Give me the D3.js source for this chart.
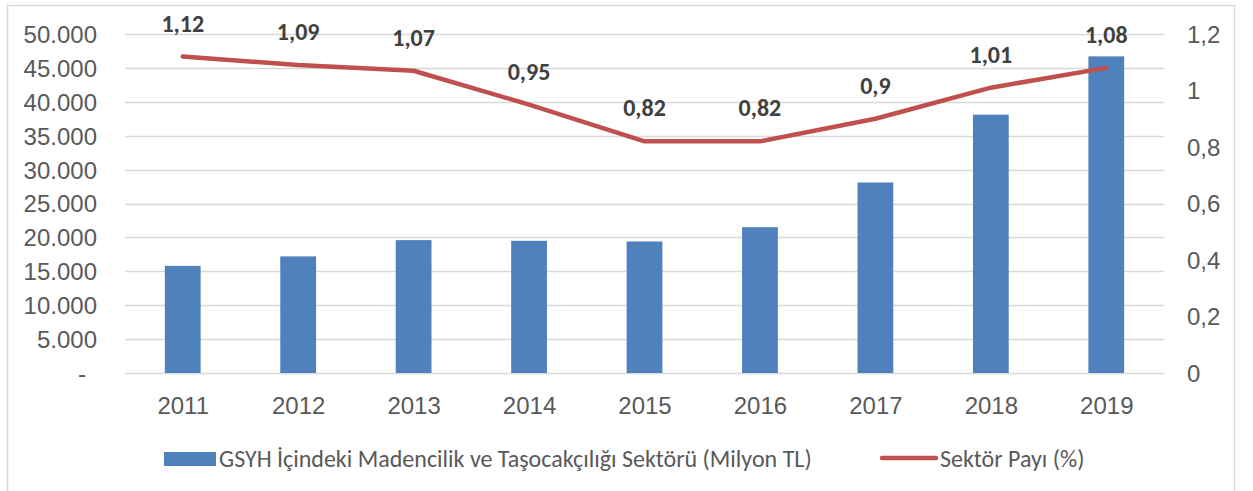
<!DOCTYPE html>
<html>
<head>
<meta charset="utf-8">
<script src="https://cdn.jsdelivr.net/npm/d3@7"></script>
<style>
  body { margin: 0; background: #fff; }
  svg { display: block; font-family: Calibri, Carlito, "Open Sans", sans-serif; }
  .axis text { fill: #595959; font-size: 24px; }
  .axis .domain { display: none; }
</style>
</head>
<body>
<svg id="chart" width="1253" height="491"></svg>
<script>
// data
const years = ["2011", "2012", "2013", "2014", "2015", "2016", "2017", "2018", "2019"];
const sectorValue = [15800, 17200, 19600, 19500, 19400, 21500, 28100, 38100, 46700];
const sectorShare = [1.12, 1.09, 1.07, 0.95, 0.82, 0.82, 0.9, 1.01, 1.08];
const leftTicks = [0, 5000, 10000, 15000, 20000, 25000, 30000, 35000, 40000, 45000, 50000];
const rightTicks = [0, 0.2, 0.4, 0.6, 0.8, 1, 1.2];
const barLabel = "GSYH İçindeki Madencilik ve Taşocakçılığı Sektörü (Milyon TL)";
const lineLabel = "Sektör Payı (%)";

let chart = d3.select("#chart");
let tr = d3.formatLocale({decimal: ",", thousands: ".", grouping: [3], currency: ["", " TL"]});
let fmtLeft = tr.format(",.0f");
let fmtRight = tr.format("~g");

// chart frame
chart.append("rect")
    .attr("x", 7.5).attr("y", 5.5)
    .attr("width", 1227).attr("height", 520)
    .attr("fill", "none")
    .attr("stroke", "#d9d9d9")
    .attr("stroke-width", 1.5);

// scales
let x = d3.scaleBand()
    .domain(years)
    .range([125, 1164])
    .paddingInner(0.69)
    .paddingOuter(0.345);
let xc = d3.scalePoint().domain(years).range([125, 1164]).padding(0.5);

let yL = d3.scaleLinear().domain([0, 50000]).range([373, 34]);
let yR = d3.scaleLinear().domain([0, 1.2]).range([373, 34]);

// gridlines
chart.append("g")
    .selectAll("line")
    .data(leftTicks)
    .join("line")
    .attr("x1", 125).attr("x2", 1164)
    .attr("y1", d => Math.round(yL(d)) + 0.5)
    .attr("y2", d => Math.round(yL(d)) + 0.5)
    .attr("stroke", "#d9d9d9")
    .attr("stroke-width", 1.5);

// left axis
let yAxisGroup = chart.append("g")
    .attr("class", "axis")
    .attr("transform", "translate(125,0)")
    .call(d3.axisLeft(yL).tickValues(leftTicks).tickSize(0).tickPadding(28)
        .tickFormat(d => d === 0 ? "-" : fmtLeft(d)));
yAxisGroup.selectAll("text").attr("dy", "0.35em");
yAxisGroup.selectAll(".tick").filter(d => d === 0).select("text")
    .attr("text-anchor", "middle").attr("x", -43);

// right axis
let yAxisRight = chart.append("g")
    .attr("class", "axis")
    .attr("transform", "translate(1164,0)")
    .call(d3.axisRight(yR).tickValues(rightTicks).tickSize(0).tickPadding(23)
        .tickFormat(fmtRight));
yAxisRight.selectAll("text").attr("dy", "0.35em");

// x axis
let xAxisGroup = chart.append("g")
    .attr("class", "axis")
    .attr("transform", "translate(0,373)")
    .call(d3.axisBottom(xc).tickSize(0).tickPadding(24));
xAxisGroup.selectAll("text").attr("dy", "0.71em");

// bars
chart.append("g")
    .selectAll("rect")
    .data(years)
    .join("rect")
    .attr("x", d => x(d))
    .attr("width", x.bandwidth())
    .attr("y", (d, i) => yL(sectorValue[i]))
    .attr("height", (d, i) => yL(0) - yL(sectorValue[i]))
    .attr("fill", "#4f81bd");

// share line
chart.append("path")
    .datum(sectorShare)
    .attr("fill", "none")
    .attr("stroke", "#c0504d")
    .attr("stroke-width", 4.5)
    .attr("stroke-linecap", "round")
    .attr("stroke-linejoin", "round")
    .attr("d", d3.line()
        .x((d, i) => xc(years[i]))
        .y(d => yR(d)));

// data labels
chart.append("g")
    .selectAll("text")
    .data(sectorShare)
    .join("text")
    .text(d => fmtRight(d))
    .attr("x", (d, i) => xc(years[i]))
    .attr("y", d => yR(d) - 25)
    .attr("text-anchor", "middle")
    .attr("font-weight", 700)
    .style("font-size", "24px")
    .style("fill", "#404040");

// legend
let legend = chart.append("g");
legend.append("rect")
    .attr("x", 164).attr("y", 452)
    .attr("width", 52).attr("height", 14)
    .attr("fill", "#4f81bd");
legend.append("text")
    .text(barLabel)
    .attr("x", 219).attr("y", 467)
    .style("font-size", "24px")
    .style("fill", "#595959");
legend.append("line")
    .attr("x1", 882).attr("x2", 936)
    .attr("y1", 458).attr("y2", 458)
    .attr("stroke", "#c0504d")
    .attr("stroke-width", 4.5)
    .attr("stroke-linecap", "round");
legend.append("text")
    .text(lineLabel)
    .attr("x", 940).attr("y", 467)
    .style("font-size", "24px")
    .style("fill", "#595959");
</script>
</body>
</html>
